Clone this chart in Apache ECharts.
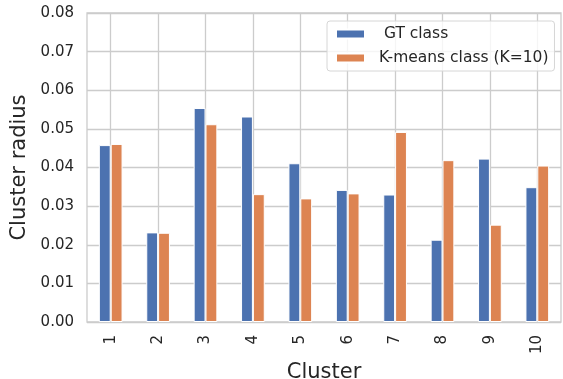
<!DOCTYPE html>
<html>
<head>
<meta charset="utf-8">
<script src="https://cdn.jsdelivr.net/npm/echarts@6/dist/echarts.min.js"></script>
<style>
html,body{margin:0;padding:0;background:#fff;}
#chart{width:563px;height:379px;}
</style>
</head>
<body>
<div id="chart"></div>
<script>
const categories = ['1','2','3','4','5','6','7','8','9','10'];
const gtValues = [0.0458, 0.0232, 0.0554, 0.0532, 0.0411, 0.0342, 0.0330, 0.0213, 0.0423, 0.0349];
const kmValues = [0.0461, 0.0231, 0.0512, 0.0331, 0.0320, 0.0333, 0.0492, 0.0419, 0.0252, 0.0405];
const seriesNames = [' GT class', 'K-means class (K=10)'];
const yMin = 0, yMax = 0.08, yStep = 0.01;

const FONT = 'DejaVu Sans';
const TXT = '#262626';
const GRID = '#cccccc';

const chart = echarts.init(document.getElementById('chart'), null, {renderer: 'canvas'});
chart.setOption({
  animation: false,
  backgroundColor: '#ffffff',
  textStyle: {fontFamily: FONT},
  grid: {left: 87, right: 2, top: 13, bottom: 57, show: true, borderColor: GRID, borderWidth: 1.3,
         backgroundColor: 'transparent', containLabel: false, outerBoundsMode: 'none'},
  legend: {
    orient: 'vertical',
    left: 327, top: 21,
    itemWidth: 29, itemHeight: 9, itemGap: 8,
    icon: 'rect',
    padding: [5, 6, 5, 8],
    backgroundColor: 'rgba(255,255,255,0.8)',
    borderColor: '#d6d6d6', borderWidth: 1, borderRadius: 3,
    textStyle: {fontFamily: FONT, fontSize: 15.5, color: TXT, padding: [0, 0, 0, 9]},
    data: seriesNames
  },
  xAxis: {
    type: 'category',
    data: categories,
    name: 'Cluster',
    nameLocation: 'middle',
    nameGap: 35,
    nameTextStyle: {fontFamily: FONT, fontSize: 21, color: TXT},
    axisLine: {show: false},
    axisTick: {show: false},
    axisLabel: {rotate: 90, fontSize: 15, color: TXT, fontFamily: FONT, margin: 13},
    splitLine: {show: true, alignWithLabel: true, lineStyle: {color: GRID, width: 1.3}}
  },
  yAxis: {
    type: 'value',
    min: yMin, max: yMax, interval: yStep,
    name: 'Cluster radius',
    nameLocation: 'middle',
    nameGap: 50,
    nameTextStyle: {fontFamily: FONT, fontSize: 21, color: TXT},
    axisLine: {show: false},
    axisTick: {show: false},
    axisLabel: {fontSize: 15, color: TXT, fontFamily: FONT, margin: 13, formatter: v => v.toFixed(2)},
    splitLine: {show: true, lineStyle: {color: GRID, width: 1.3}}
  },
  series: [
    {name: seriesNames[0], type: 'bar', data: gtValues, barGap: '0%', barCategoryGap: '50%',
     itemStyle: {color: '#4c72b0', borderColor: '#ffffff', borderWidth: 1}},
    {name: seriesNames[1], type: 'bar', data: kmValues, barGap: '0%', barCategoryGap: '50%',
     itemStyle: {color: '#dd8452', borderColor: '#ffffff', borderWidth: 1}}
  ]
});
</script>
</body>
</html>
